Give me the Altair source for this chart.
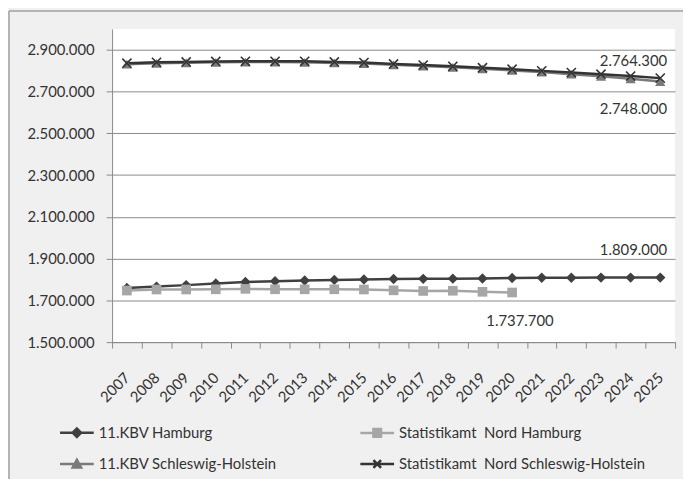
import altair as alt
import pandas as pd

years = list(range(2007, 2026))
series_names = [
    "11.KBV Hamburg",
    "Statistikamt\u00a0 Nord Hamburg",
    "11.KBV Schleswig-Holstein",
    "Statistikamt\u00a0 Nord Schleswig-Holstein",
]
kbv_hh = [1759000, 1766000, 1773000, 1781000, 1788000, 1792000, 1795000, 1798000, 1800000,
          1802000, 1803000, 1804000, 1805000, 1807000, 1808000, 1808500, 1809000, 1809000, 1809000]
stat_hh = [1747000, 1752000, 1752000, 1753000, 1755000, 1753000, 1753000, 1753000, 1752000,
           1748000, 1745000, 1746000, 1741000, 1737700]
kbv_sh = [2831000, 2835000, 2838000, 2840000, 2841000, 2841000, 2840000, 2837000, 2834000,
          2828000, 2822000, 2816000, 2809000, 2801000, 2793000, 2783000, 2773000, 2761000, 2748000]
stat_sh = [2836000, 2840000, 2842000, 2844000, 2845000, 2845000, 2845000, 2842000, 2839000,
           2832000, 2827000, 2821000, 2814000, 2807000, 2799000, 2791000, 2783000, 2774000, 2764300]
series_values = [kbv_hh, stat_hh, kbv_sh, stat_sh]
colors = ["#404040", "#a6a6a6", "#7a7a7a", "#333333"]
y_ticks = [1500000, 1700000, 1900000, 2100000, 2300000, 2500000, 2700000, 2900000]

# annotations
ann_text = ["2.764.300", "2.748.000", "1.809.000", "1.737.700"]
ann_year = [2025, 2025, 2025, 2020]
ann_value = [2764300, 2748000, 1809000, 1737700]

rows = []
for name, vals in zip(series_names, series_values):
    for yr, v in zip(years, vals):
        rows.append({"year": yr, "value": v, "series": name})
df = pd.DataFrame(rows)
ann = pd.DataFrame({"year": ann_year, "value": ann_value, "text": ann_text})

FONT = "Lato"
xs = alt.Scale(type="band", domain=years, paddingInner=0, paddingOuter=0)
ys = alt.Scale(domain=[1500000, 3000000], nice=False, zero=False)
color_scale = alt.Scale(domain=series_names, range=colors)


def xenc(axis=True):
    if axis:
        return alt.X("year:O", scale=xs, bandPosition=0.5, axis=alt.Axis(
            title=None, grid=False, labelAngle=-45, labelAlign="right",
            labelBaseline="middle", labelPadding=27, tickSize=6, tickBand="extent",
            labelOverlap=False, labelFlush=False, labelBound=False))
    return alt.X("year:O", scale=xs, bandPosition=0.5)


y_enc = alt.Y("value:Q", scale=ys, axis=alt.Axis(
    values=y_ticks, title=None, grid=True, tickSize=6, labelPadding=12,
    labelExpr="join(split(format(datum.value, ','), ','), '.')",
    labelOverlap=False, labelFlush=False))

base = alt.Chart(df)

lines = base.mark_line(strokeWidth=2.5).encode(
    x=xenc(True), y=y_enc,
    color=alt.Color("series:N", scale=color_scale, sort=series_names,
                    legend=alt.Legend(title=None)),
    order=alt.Order("year:Q"),
)

marker_shapes = ["diamond", "square", "triangle-up", "M-1,-1L1,1M-1,1L1,-1"]
marker_sizes = [110, 95, 105, 85]
markers = []
for name, col, shp, sz in zip(series_names, colors, marker_shapes, marker_sizes):
    filled = not shp.startswith("M")
    markers.append(
        base.transform_filter(alt.datum.series == name).mark_point(
            shape=shp, size=sz, filled=filled, opacity=1, strokeWidth=1.6,
            color=col).encode(x=xenc(False), y="value:Q")
    )

legend_paths = [
    "M-2,0L2,0M-0.5,0L0,-0.5L0.5,0L0,0.5Z",
    "M-2,0L2,0M-0.45,-0.45L0.45,-0.45L0.45,0.45L-0.45,0.45Z",
    "M-2,0L2,0M0,-0.5L0.5,0.4L-0.5,0.4Z",
    "M-2,0L2,0M-0.45,-0.45L0.45,0.45M-0.45,0.45L0.45,-0.45",
]
legend_layer = base.mark_point(filled=True, clip=True, strokeWidth=2.5, opacity=1).encode(
    x=xenc(False),
    y=alt.value(-2000),
    color=alt.Color("series:N", scale=color_scale, sort=series_names,
                    legend=alt.Legend(title=None)),
    stroke=alt.Stroke("series:N", scale=alt.Scale(domain=series_names, range=colors),
                      sort=series_names, legend=alt.Legend(title=None)),
    shape=alt.Shape("series:N", scale=alt.Scale(domain=series_names, range=legend_paths),
                    sort=series_names, legend=alt.Legend(title=None)),
)


def label(txt, align, dx, dy):
    return alt.Chart(ann[ann.text == txt]).mark_text(
        font=FONT, fontSize=15, color="#333333", align=align, dx=dx, dy=dy).encode(
        x=xenc(False), y="value:Q", text="text:N")


t1 = label("2.764.300", "right", 7, -17)
t2 = label("2.748.000", "right", 7, 28)
t3 = label("1.809.000", "right", 7, -28)
t4 = label("1.737.700", "center", 8, 29)

border_top = alt.Chart(pd.DataFrame({"a": [0]})).mark_rule(color="#a0a0a0", strokeWidth=1.5).encode(
    x=alt.value(-104), x2=alt.value(600), y=alt.value(-18))
border_left = alt.Chart(pd.DataFrame({"a": [0]})).mark_rule(color="#a0a0a0", strokeWidth=1.5).encode(
    x=alt.value(-104), y=alt.value(-18), y2=alt.value(480))

chart = alt.layer(
    lines, *markers, legend_layer, t1, t2, t3, t4, border_top, border_left
).properties(
    width=568, height=316,
    padding={"left": 105, "top": 19, "right": 8, "bottom": 136},
    autosize=alt.AutoSizeParams(type="none"),
    background="#f0f0f0",
).configure_view(
    fill="white", stroke=None
).configure_axis(
    labelFont=FONT, labelFontSize=15, labelColor="#333333",
    domainColor="#8a8a8a", tickColor="#8a8a8a", gridColor="#8a8a8a",
    domainWidth=1, tickWidth=1, gridWidth=1,
).configure_legend(
    orient="none", legendX=-54, legendY=397, columns=2, direction="horizontal",
    labelFont=FONT, labelFontSize=15, labelColor="#333333", labelLimit=400,
    symbolSize=289, symbolOffset=8.5, labelOffset=12, columnPadding=78,
    rowPadding=12, symbolStrokeWidth=2.5,
)

chart.save("out.html", embed_options={"renderer": "svg", "actions": False})
